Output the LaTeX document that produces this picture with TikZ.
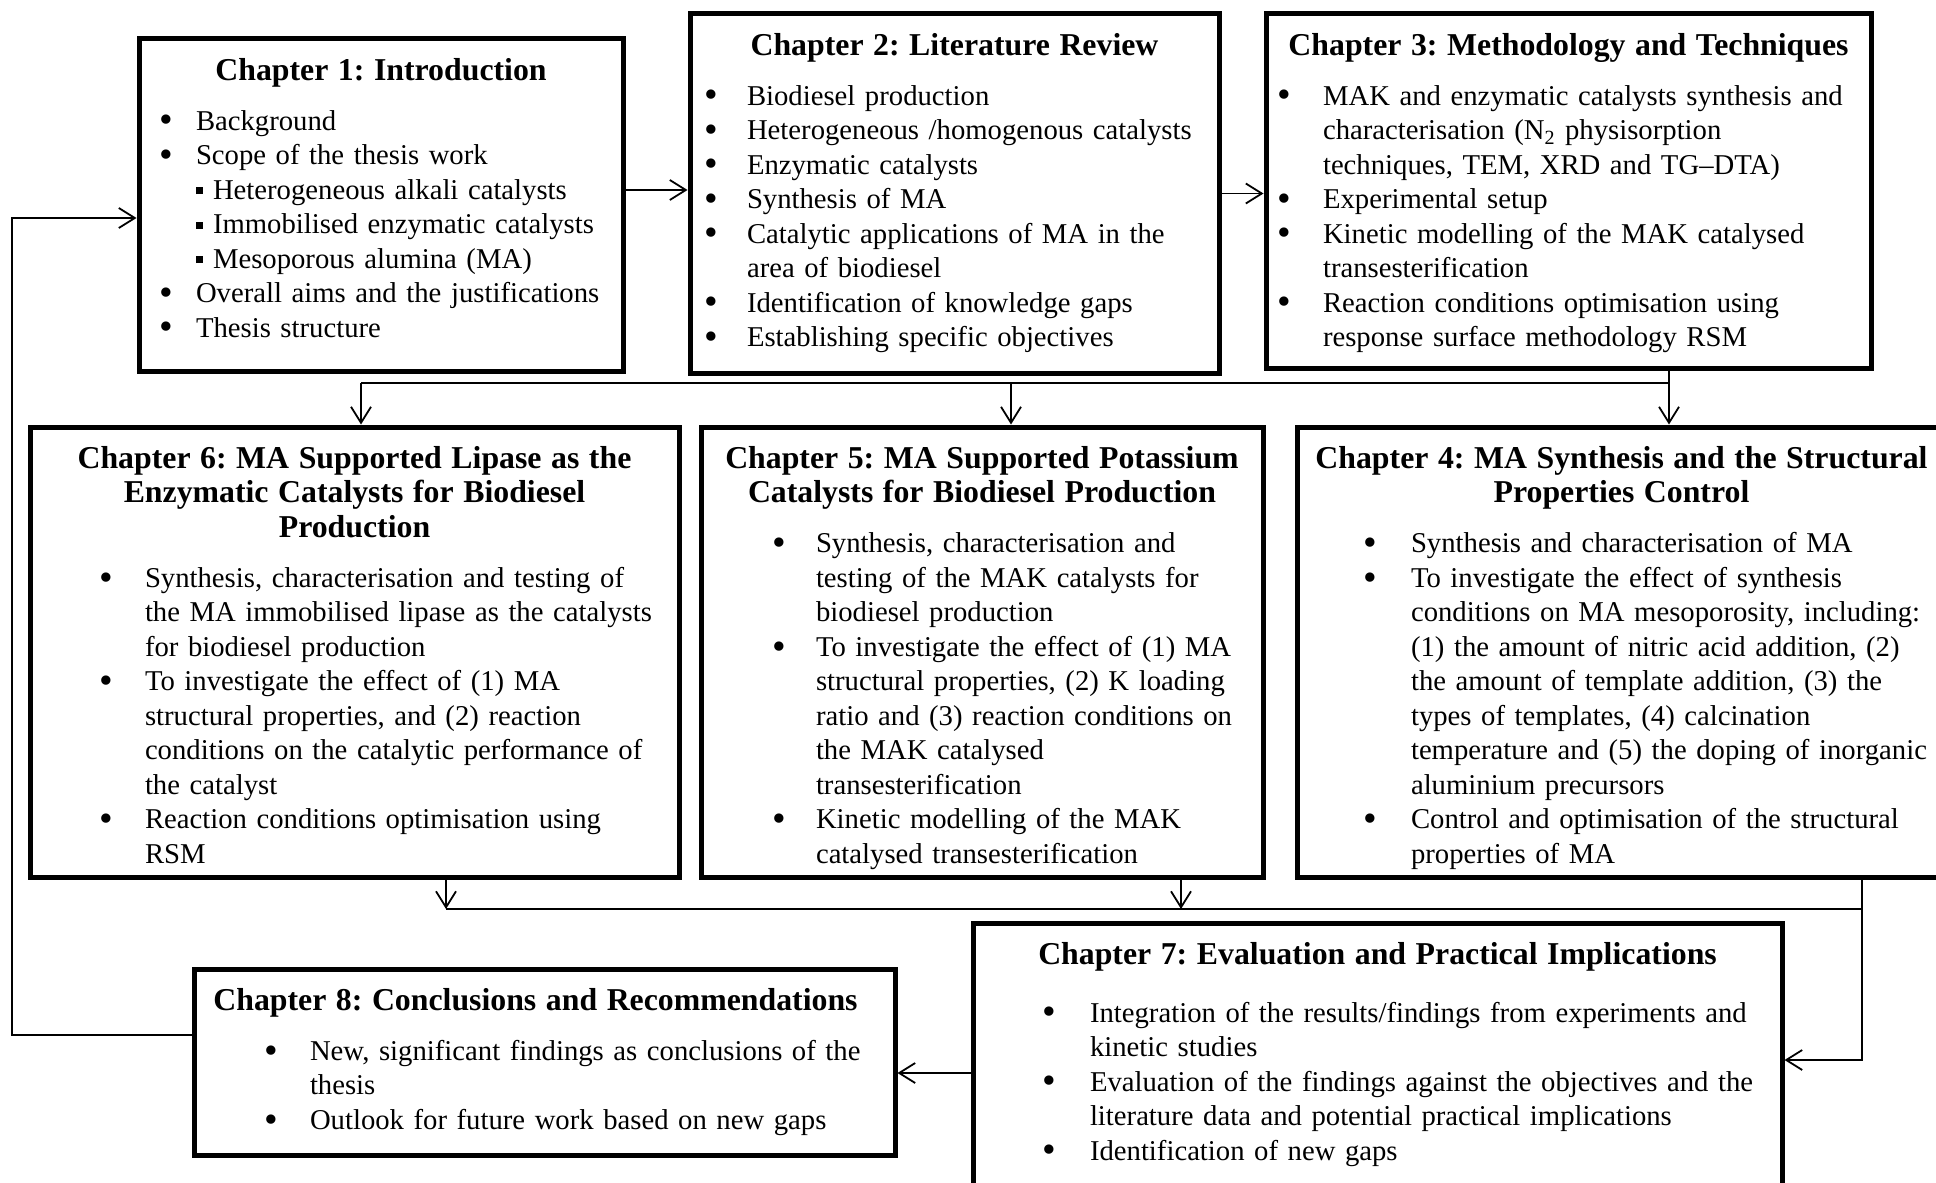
\documentclass[tikz,border=0pt]{standalone}
\usepackage{fontspec}
\setmainfont{Liberation Serif}
\usetikzlibrary{arrows.meta}

\frenchspacing
\newlength\bhang
\setlength\bhang{23pt}
\newcommand\ttl[2][0pt]{\par\noindent\makebox[\linewidth]{\fontsize{15.9}{18}\selectfont\bfseries #2\kern#1}}
\newcommand\tgap[1][7.8pt]{\par\vspace{#1}}
\newcommand\bdot{\raisebox{-1.4pt}{\fontsize{19.5}{0}\selectfont\textbullet}}
\newcommand\itm[1]{\par\noindent\makebox[\bhang][l]{\bdot}\rlap{#1}}
\newcommand\cnt[1]{\par\noindent\hspace*{\bhang}\rlap{#1}}
\newcommand\subitm[1]{\par\noindent\hspace*{\bhang}\makebox[8.5pt][l]{\rule[2.5pt]{3.5pt}{3.5pt}}\rlap{#1}}

\begin{document}
\begin{tikzpicture}[x=0.5pt, y=-0.5pt,
  chap/.style={draw, line width=2.5pt, anchor=north west, align=left,
    inner ysep=0pt, text height=3.3pt, font=\fontsize{14.35}{17.25}\selectfont},
  ln/.style={line width=0.9pt},
  arr/.style={ln, -{Straight Barb[length=8pt,width=10pt]}}
]
\useasboundingbox (0,0) rectangle (1936,1182);
\clip (0,0) rectangle (1936,1182);

% --- top row ---
\node[chap, inner xsep=10pt, text width=222pt, text depth=162.7pt] (c1) at (136.5,36.5) {%
  \setlength\bhang{18.5pt}%
  \ttl{Chapter 1: Introduction}\tgap
  \itm{Background}
  \itm{Scope of the thesis work}
  \subitm{Heterogeneous alkali catalysts}
  \subitm{Immobilised enzymatic catalysts}
  \subitm{Mesoporous alumina (MA)}
  \itm{Overall aims and the justifications}
  \itm{Thesis structure}};

\node[chap, inner xsep=7pt, text width=250.5pt, text depth=176.2pt] (c2) at (687.5,11.5) {%
  \setlength\bhang{21.5pt}%
  \ttl{Chapter 2: Literature Review}\tgap
  \itm{Biodiesel production}
  \itm{Heterogeneous /homogenous catalysts}
  \itm{Enzymatic catalysts}
  \itm{Synthesis of MA}
  \itm{Catalytic applications of MA in the}
  \cnt{area of biodiesel}
  \itm{Identification of knowledge gaps}
  \itm{Establishing specific objectives}};

\node[chap, inner xsep=5.5pt, text width=291.5pt, text depth=173.7pt] (c3) at (1263.5,11.5) {%
  \ttl{Chapter 3: Methodology and Techniques}\tgap
  \itm{MAK and enzymatic catalysts synthesis and}
  \cnt{characterisation (N\textsubscript{2} physisorption}
  \cnt{techniques, TEM, XRD and TG–DTA)}
  \itm{Experimental setup}
  \itm{Kinetic modelling of the MAK catalysed}
  \cnt{transesterification}
  \itm{Reaction conditions optimisation using}
  \cnt{response surface methodology RSM}};

% --- middle row ---
\node[chap, inner xsep=34.5pt, text width=255.5pt, text depth=221.7pt] (c6) at (27.5,424.5) {%
  \ttl{Chapter 6: MA Supported Lipase as the}
  \ttl{Enzymatic Catalysts for Biodiesel}
  \ttl{Production}\tgap
  \itm{Synthesis, characterisation and testing of}
  \cnt{the MA immobilised lipase as the catalysts}
  \cnt{for biodiesel production}
  \itm{To investigate the effect of (1) MA}
  \cnt{structural properties, and (2) reaction}
  \cnt{conditions on the catalytic performance of}
  \cnt{the catalyst}
  \itm{Reaction conditions optimisation using}
  \cnt{RSM}};

\node[chap, inner xsep=35.5pt, text width=210pt, text depth=221.7pt] (c5) at (698.5,424.5) {%
  \setlength\bhang{22pt}%
  \ttl{Chapter 5: MA Supported Potassium}
  \ttl{Catalysts for Biodiesel Production}\tgap
  \itm{Synthesis, characterisation and}
  \cnt{testing of the MAK catalysts for}
  \cnt{biodiesel production}
  \itm{To investigate the effect of (1) MA}
  \cnt{structural properties, (2) K loading}
  \cnt{ratio and (3) reaction conditions on}
  \cnt{the MAK catalysed}
  \cnt{transesterification}
  \itm{Kinetic modelling of the MAK}
  \cnt{catalysed transesterification}};

\node[chap, inner xsep=33pt, text width=258.5pt, text depth=221.7pt] (c4) at (1294.5,424.5) {%
  \setlength\bhang{24pt}%
  \ttl{Chapter 4: MA Synthesis and the Structural}
  \ttl{Properties Control}\tgap
  \itm{Synthesis and characterisation of MA}
  \itm{To investigate the effect of synthesis}
  \cnt{conditions on MA mesoporosity, including:}
  \cnt{(1) the amount of nitric acid addition, (2)}
  \cnt{the amount of template addition, (3) the}
  \cnt{types of templates, (4) calcination}
  \cnt{temperature and (5) the doping of inorganic}
  \cnt{aluminium precursors}
  \itm{Control and optimisation of the structural}
  \cnt{properties of MA}};

% --- bottom row ---
\node[chap, inner xsep=34.5pt, text width=335.5pt, text depth=146.7pt] (c7) at (970.5,920.5) {%
  \setlength\bhang{24pt}%
  \ttl{Chapter 7: Evaluation and Practical Implications}\tgap[11.7pt]
  \itm{Integration of the results/findings from experiments and}
  \cnt{kinetic studies}
  \itm{Evaluation of the findings against the objectives and the}
  \cnt{literature data and potential practical implications}
  \itm{Identification of new gaps}};

\node[chap, inner xsep=35pt, text width=280.5pt, text depth=89.7pt] (c8) at (191.5,966.5) {%
  \ttl[9pt]{Chapter 8: Conclusions and Recommendations}\tgap
  \itm{New, significant findings as conclusions of the}
  \cnt{thesis}
  \itm{Outlook for future work based on new gaps}};

% --- junctions of the two buses ---
\coordinate (b6) at (361,383);
\coordinate (b5) at (1011,383);
\coordinate (b4) at (1669,383);
\coordinate (d6) at (446,909);
\coordinate (d5) at (1181,909);
\coordinate (d4) at (1862,909);
\coordinate (d7) at (1862,1060);
\coordinate (back) at (12,1035);

% --- connectors ---
\draw[arr] ([yshift=7.5pt]c1.east) -- ([yshift=7.5pt]c1.east -| c2.west);
\draw[arr] (c2.east) -- (c2.east -| c3.west);
\draw[ln] (c3.south -| b4) -- (b4) -- (b6);
\draw[arr] (b6) -- (c6.north -| b6);
\draw[arr] (b5) -- (c5.north -| b5);
\draw[arr] (b4) -- (c4.north -| b4);
\draw[arr] (c6.south -| d6) -- (d6);
\draw[arr] (c5.south -| d5) -- (d5);
\draw[ln] (d6) -- (d4);
\draw[arr] (c4.south -| d4) -- (d7) -- (d7 -| c7.east);
\draw[arr] (c7.west) -- (c7.west -| c8.east);
\draw[arr] ([yshift=13.5pt]c8.west) -- (back) |- ([yshift=-6.5pt]c1.west);

\end{tikzpicture}
\end{document}
